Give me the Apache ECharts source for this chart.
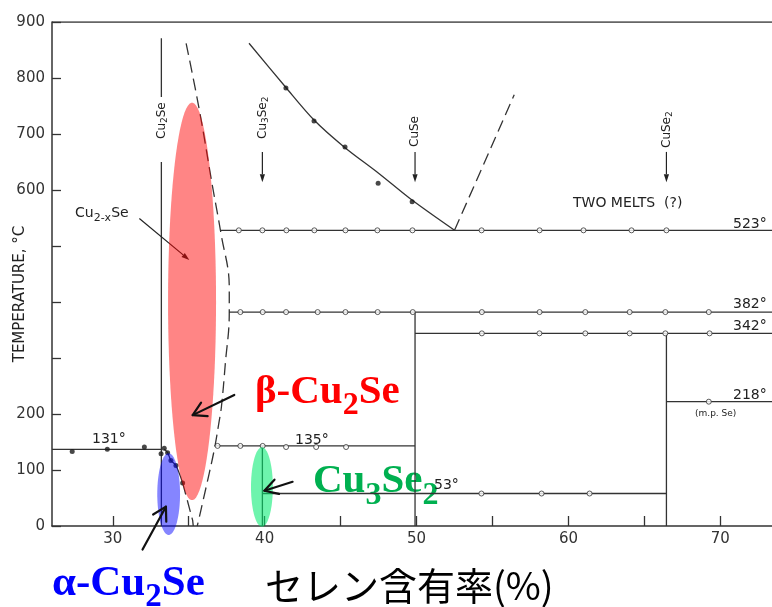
<!DOCTYPE html>
<html><head><meta charset="utf-8">
<script src="https://cdn.jsdelivr.net/npm/echarts@6/dist/echarts.min.js"></script>
<style>html,body{margin:0;padding:0;background:#fff}#c{width:772px;height:607px}</style>
</head><body><div id="c"></div>
<script>
// ---------- axes ----------
const xTickValues = [30, 35, 40, 45, 50, 55, 60, 65, 70];
const xLabelValues = [30, 40, 50, 60, 70];
const yTickValues = [0, 100, 200, 300, 400, 500, 600, 700, 800, 900];
const yLabelValues = [0, 100, 200, 600, 700, 800, 900];

// ---------- phase boundaries (Se %, °C) ----------
const frameTop = [[26, 900], [73.4, 900]];
const cu2seUpper = [[33.2, 871], [33.2, 766]];
const cu2seLower = [[33.2, 650], [33.2, 0]];
const cu3se2Line = [[39.85, 143], [39.85, 0]];
const cuseLine = [[49.9, 382], [49.9, 0]];
const cuse2Line = [[66.45, 344], [66.45, 0]];
const liquidus = [[38.97, 862], [41.40, 783], [43.25, 725], [45.23, 677], [47.5, 630], [49.7, 582], [52.5, 528]];
const liquidusDashed = [[52.5, 528], [56.43, 770]];
const boundaryRight = [[34.83, 862], [35.70, 743], [36.57, 606], [37.12, 523], [37.67, 426], [37.67, 380], [37.41, 290], [37.15, 212], [36.98, 183], [36.71, 140], [36.35, 94], [35.95, 46], [35.65, 10], [35.56, 0]];
const boundaryLeftSolid = [[33.39, 137], [33.61, 131], [33.83, 117], [34.16, 108], [34.60, 77]];
const boundaryLeftDashed = [[34.60, 77], [35.26, 10], [35.3, 0]];
const iso523 = [[37.12, 528], [73.4, 528]];
const iso382 = [[37.65, 382], [73.4, 382]];
const iso342 = [[49.9, 344], [73.4, 344]];
const iso218 = [[66.45, 222], [73.4, 222]];
const iso135 = [[36.7, 143], [49.9, 143]];
const iso131 = [[26, 137], [33.2, 137]];
const iso53 = [[39.85, 58], [66.45, 58]];

// ---------- measured points ----------
const openCircles = [
  [38.30, 528], [39.85, 528], [41.43, 528], [43.27, 528], [45.32, 528], [47.42, 528], [49.73, 528], [54.28, 528], [58.10, 528], [60.99, 528], [64.15, 528], [66.45, 528],
  [38.40, 382], [39.87, 382], [41.41, 382], [43.49, 382], [45.32, 382], [47.44, 382], [49.75, 382], [54.30, 382], [58.10, 382], [61.11, 382], [64.03, 382], [66.38, 382], [69.24, 382],
  [54.30, 344], [58.09, 344], [61.11, 344], [64.03, 344], [66.38, 344], [69.29, 344],
  [69.24, 222],
  [36.90, 143], [38.40, 143], [39.87, 143], [41.41, 141], [43.39, 141], [45.36, 141],
  [54.27, 58], [58.23, 58], [61.39, 58]
];
const filledDots = [
  [41.40, 782], [43.25, 723], [45.29, 677], [47.47, 612], [49.71, 579],
  [27.33, 133], [29.64, 137], [32.08, 141], [33.39, 139], [33.18, 129], [33.61, 131], [33.83, 117], [34.16, 108], [34.60, 77]
];

// ---------- highlighted regions (cx, cy, rx, ry) ----------
const ellipses = [[35.22, 401, 1.58, 355], [33.68, 57, 0.75, 73], [39.82, 69.6, 0.72, 71]];
const ellipseColors = ['rgba(255,0,0,0.48)', 'rgba(0,0,255,0.48)', 'rgba(0,235,110,0.57)'];

// ---------- arrows (x1, y1, x2, y2) ----------
const boldArrows = [[38.00, 234, 35.26, 198], [31.96, -42, 33.50, 34.5], [41.84, 79, 39.98, 63]];
const thinArrows = [[31.75, 549, 35.04, 475], [39.85, 668, 39.85, 614], [49.9, 668, 49.9, 614], [66.45, 668, 66.45, 614]];

const chart = echarts.init(document.getElementById('c'), null, {renderer: 'canvas'});
const LC = '#333';
function lineSeries(data, dashed, smooth) {
  return {type: 'line', data: data, symbol: 'none', showSymbol: false, smooth: smooth || false,
    lineStyle: {color: LC, width: 1.3, type: dashed ? [12, 6] : 'solid'}, silent: true, animation: false, z: 2};
}

const mctx = document.createElement('canvas').getContext('2d');
function richGroup(x, y, parts, color, rotation) {
  const children = []; let cx = 0;
  parts.forEach(function (p) {
    mctx.font = p[1];
    children.push({type: 'text', x: cx, y: p[2], style: {text: p[0], font: p[1], fill: color,
      align: 'left', textAlign: 'left', verticalAlign: 'middle', textVerticalAlign: 'middle'}});
    cx += mctx.measureText(p[0]).width;
  });
  return {type: 'group', x: x, y: y, rotation: rotation || 0, children: children, z: 100, silent: true};
}
function txt(x, y, s, font, color, align, rotation) {
  return {type: 'text', x: x, y: y, rotation: rotation || 0, z: 100, silent: true,
    style: {text: s, font: font, fill: color, align: align || 'left', textAlign: align || 'left', verticalAlign: 'middle', textVerticalAlign: 'middle'}};
}
const SER = 'bold 41px "Liberation Serif"', SUB = 'bold 32px "Liberation Serif"';
const SERA = 'bold 43px "Liberation Serif"', SUBA = 'bold 33px "Liberation Serif"';
const SM = '14px "DejaVu Sans"', ROT = '12px "DejaVu Sans"', ROTS = '9px "DejaVu Sans"';
const TC = '#222';

const graphics = [
  richGroup(255, 392.5, [['β-Cu', SER, 0], ['2', SUB, 13.5], ['Se', SER, 0]], '#ff0000'),
  richGroup(313, 481.5, [['Cu', SER, 0], ['3', SUB, 14], ['Se', SER, 0], ['2', SUB, 14]], '#00b050'),
  richGroup(52, 584, [['α-Cu', SERA, 0], ['2', SUBA, 13.5], ['Se', SERA, 0]], '#0000ff'),
  txt(265, 586, 'セレン含有率(%)', '38px "Noto Sans CJK JP"', '#000'),
  txt(20, 294, 'TEMPERATURE, °C', '15px "DejaVu Sans"', TC, 'center', Math.PI / 2),
  txt(92, 439, '131°', SM, TC), txt(295, 440, '135°', SM, TC), txt(434, 485, '53°', SM, TC),
  txt(733, 224, '523°', SM, TC), txt(733, 304, '382°', SM, TC), txt(733, 326, '342°', SM, TC),
  txt(733, 395, '218°', SM, TC), txt(695, 414, '(m.p. Se)', '9px "DejaVu Sans"', TC),
  txt(573, 203, 'TWO MELTS  (?)', SM, TC),
  richGroup(75, 213, [['Cu', SM, 0], ['2-x', '11px "DejaVu Sans"', 5], ['Se', SM, 0]], TC),
  richGroup(162, 139, [['Cu', ROT, 0], ['2', ROTS, 3], ['Se', ROT, 0]], TC, Math.PI / 2),
  richGroup(263, 139, [['Cu', ROT, 0], ['3', ROTS, 3], ['Se', ROT, 0], ['2', ROTS, 3]], TC, Math.PI / 2),
  richGroup(415, 147, [['CuSe', ROT, 0]], TC, Math.PI / 2),
  richGroup(667, 148, [['CuSe', ROT, 0], ['2', ROTS, 3]], TC, Math.PI / 2)
];

const option = {
  animation: false,
  grid: {left: 52, right: 0, top: 22, bottom: 81, containLabel: false, outerBoundsMode: 'none'},
  xAxis: {type: 'value', min: 26, max: 73.4,
    axisLine: {show: true, lineStyle: {color: LC, width: 1.5}},
    axisTick: {show: true, inside: true, length: 10, customValues: xTickValues, lineStyle: {color: LC, width: 1.3}},
    axisLabel: {customValues: xLabelValues, fontSize: 15, fontFamily: 'DejaVu Sans', color: '#333', margin: 6},
    splitLine: {show: false}},
  yAxis: {type: 'value', min: 0, max: 900,
    axisLine: {show: true, lineStyle: {color: LC, width: 1.5}},
    axisTick: {show: true, inside: true, length: 9, customValues: yTickValues, lineStyle: {color: LC, width: 1.3}},
    axisLabel: {customValues: yLabelValues, fontSize: 15, fontFamily: 'DejaVu Sans', color: '#333', margin: 7},
    splitLine: {show: false}},
  graphic: {elements: graphics},
  series: [
    lineSeries(frameTop), lineSeries(cu2seUpper), lineSeries(cu2seLower), lineSeries(cu3se2Line),
    lineSeries(cuseLine), lineSeries(cuse2Line), lineSeries(liquidus, false, 0.3),
    lineSeries(liquidusDashed, true), lineSeries(boundaryRight, true, 0.4),
    lineSeries(boundaryLeftSolid, false, 0.3), lineSeries(boundaryLeftDashed, true),
    lineSeries(iso523), lineSeries(iso382), lineSeries(iso342), lineSeries(iso218),
    lineSeries(iso135), lineSeries(iso131), lineSeries(iso53),
    {type: 'scatter', data: openCircles, symbol: 'circle', symbolSize: 5, silent: true, z: 3,
      itemStyle: {color: '#fff', borderColor: LC, borderWidth: 1}},
    {type: 'scatter', data: filledDots, symbol: 'circle', symbolSize: 5, silent: true, z: 3,
      itemStyle: {color: '#1a1a1a'}},
    {type: 'custom', coordinateSystem: 'cartesian2d', data: ellipses, clip: false, silent: true, z: 5,
      renderItem: function (params, api) {
        const c = api.coord([api.value(0), api.value(1)]);
        const s = api.size([api.value(2), api.value(3)]);
        const pts = [];
        for (let i = 0; i < 90; i++) { const a = i / 90 * Math.PI * 2; pts.push([c[0] + s[0] * Math.cos(a), c[1] + s[1] * Math.sin(a)]); }
        return {type: 'polygon', shape: {points: pts}, style: {fill: ellipseColors[params.dataIndex]}};
      }},
    {type: 'custom', coordinateSystem: 'cartesian2d', data: boldArrows, clip: false, silent: true, z: 6,
      renderItem: function (params, api) {
        const p1 = api.coord([api.value(0), api.value(1)]);
        const p2 = api.coord([api.value(2), api.value(3)]);
        const ang = Math.atan2(p2[1] - p1[1], p2[0] - p1[0]);
        const L = 15, h = Math.PI / 6;
        const a1 = [p2[0] - L * Math.cos(ang - h), p2[1] - L * Math.sin(ang - h)];
        const a2 = [p2[0] - L * Math.cos(ang + h), p2[1] - L * Math.sin(ang + h)];
        const st = {stroke: '#111', lineWidth: 2.2, fill: null, lineCap: 'round', lineJoin: 'round'};
        return {type: 'group', children: [
          {type: 'line', shape: {x1: p1[0], y1: p1[1], x2: p2[0], y2: p2[1]}, style: st},
          {type: 'polyline', shape: {points: [a1, p2, a2]}, style: st}]};
      }},
    {type: 'custom', coordinateSystem: 'cartesian2d', data: thinArrows, clip: false, silent: true, z: 4,
      renderItem: function (params, api) {
        const p1 = api.coord([api.value(0), api.value(1)]);
        const p2 = api.coord([api.value(2), api.value(3)]);
        const ang = Math.atan2(p2[1] - p1[1], p2[0] - p1[0]);
        const L = 8, w = 2.6;
        const bx = p2[0] - L * Math.cos(ang), by = p2[1] - L * Math.sin(ang);
        const nx = -Math.sin(ang) * w, ny = Math.cos(ang) * w;
        return {type: 'group', children: [
          {type: 'line', shape: {x1: p1[0], y1: p1[1], x2: bx, y2: by}, style: {stroke: '#222', lineWidth: 1.2}},
          {type: 'polygon', shape: {points: [[p2[0], p2[1]], [bx + nx, by + ny], [bx - nx, by - ny]]}, style: {fill: '#222'}}]};
      }}
  ]
};
chart.setOption(option);
</script></body></html>
